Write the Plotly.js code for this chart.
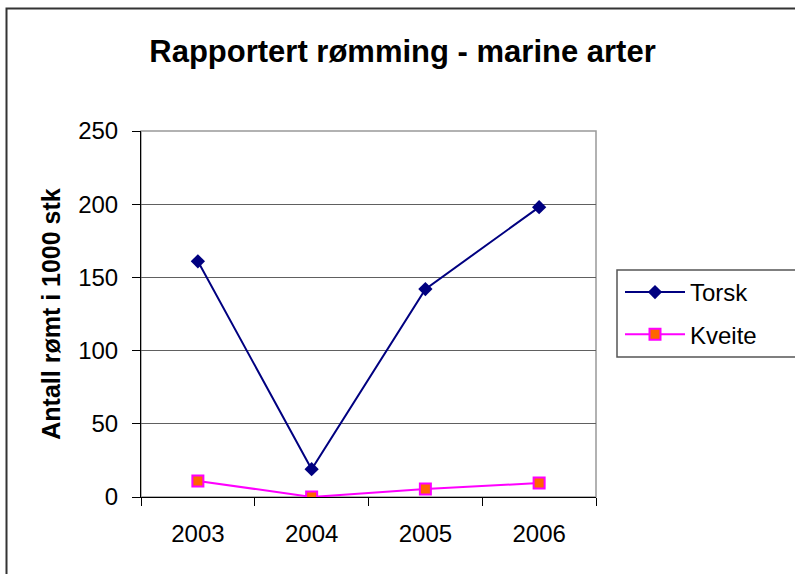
<!DOCTYPE html>
<html><head><meta charset="utf-8">
<script src="https://cdn.plot.ly/plotly-3.0.1.min.js"></script>
<style>body{margin:0;background:#fff}#chart{width:795px;height:574px}</style>
</head><body><div id="chart"></div>
<script>
const years = ['2003', '2004', '2005', '2006'];
const torsk = [161, 19, 142, 198];
const kveite = [11, 0, 5.5, 9.5];
const yTicks = [0, 50, 100, 150, 200, 250];

const L = 141, R = 596, T = 131, B = 497;
function px(x) { return (x - L) / (R - L); }
function py(y) { return (B - y) / (B - T); }
const FONT = '"Liberation Sans", Arial, sans-serif';

const traces = [
  {
    x: years, y: torsk, name: 'Torsk', type: 'scatter', mode: 'lines+markers',
    legendgroup: 'a',
    line: {color: '#000080', width: 2},
    marker: {symbol: 'diamond', size: 11, color: '#000080'}
  },
  {
    x: years, y: kveite, name: 'Kveite', type: 'scatter', mode: 'lines+markers',
    legendgroup: 'b',
    line: {color: '#FF00FF', width: 2},
    marker: {symbol: 'square', size: 11, color: '#FF6600', line: {color: '#FF00FF', width: 2}}
  }
];

const layout = {
  width: 795, height: 574,
  margin: {l: L, r: 795 - R, t: T, b: 574 - B, pad: 0},
  paper_bgcolor: '#ffffff', plot_bgcolor: '#ffffff',
  font: {family: FONT, color: '#000000', size: 24},
  title: {
    text: '<b>Rapportert rømming - marine arter</b>',
    font: {family: FONT, size: 31, color: '#000000'},
    xref: 'container', x: 402.5 / 795, xanchor: 'center',
    yref: 'container', y: 1 - 51 / 574, yanchor: 'middle'
  },
  xaxis: {
    type: 'category', range: [-0.5, 3.5],
    tickson: 'boundaries', ticks: 'outside', ticklen: 8, tickcolor: '#000', tickwidth: 1,
    showline: true, linecolor: '#000', linewidth: 1,
    showgrid: false, zeroline: false,
    tickfont: {family: FONT, size: 24, color: '#000'},
    ticklabelstandoff: 15,
    fixedrange: true
  },
  yaxis: {
    range: [0, 250], tickvals: yTicks, ticktext: yTicks.map(String),
    ticks: 'outside', ticklen: 8, tickcolor: '#000', tickwidth: 1,
    showline: true, linecolor: '#000', linewidth: 1,
    showgrid: true, gridcolor: '#606060', gridwidth: 1,
    zeroline: false,
    tickfont: {family: FONT, size: 24, color: '#000'},
    ticklabelstandoff: 9,
    title: {text: '<b>Antall rømt i 1000 stk</b>', font: {family: FONT, size: 25, color: '#000'}, standoff: 10},
    fixedrange: true
  },
  showlegend: true,
  legend: {
    x: px(620), xanchor: 'left', y: py(270), yanchor: 'top',
    bgcolor: 'rgba(0,0,0,0)', borderwidth: 0,
    font: {family: FONT, size: 24, color: '#000'},
    traceorder: 'grouped', tracegroupgap: 8,
    itemwidth: 60
  },
  shapes: [
    {type: 'rect', xref: 'paper', yref: 'paper', x0: 0, x1: 1, y0: 0, y1: 1,
     line: {color: '#999999', width: 1.5}, layer: 'below'},
    {type: 'rect', xref: 'paper', yref: 'paper', x0: px(617), x1: px(820), y0: py(357), y1: py(270),
     line: {color: '#555555', width: 1.5}},
    {type: 'rect', xref: 'paper', yref: 'paper', x0: px(6.5), x1: px(850), y0: py(650), y1: py(8.5),
     line: {color: '#333333', width: 2}}
  ]
};

Plotly.newPlot('chart', traces, layout, {displayModeBar: false, staticPlot: true});
</script>
</body></html>
